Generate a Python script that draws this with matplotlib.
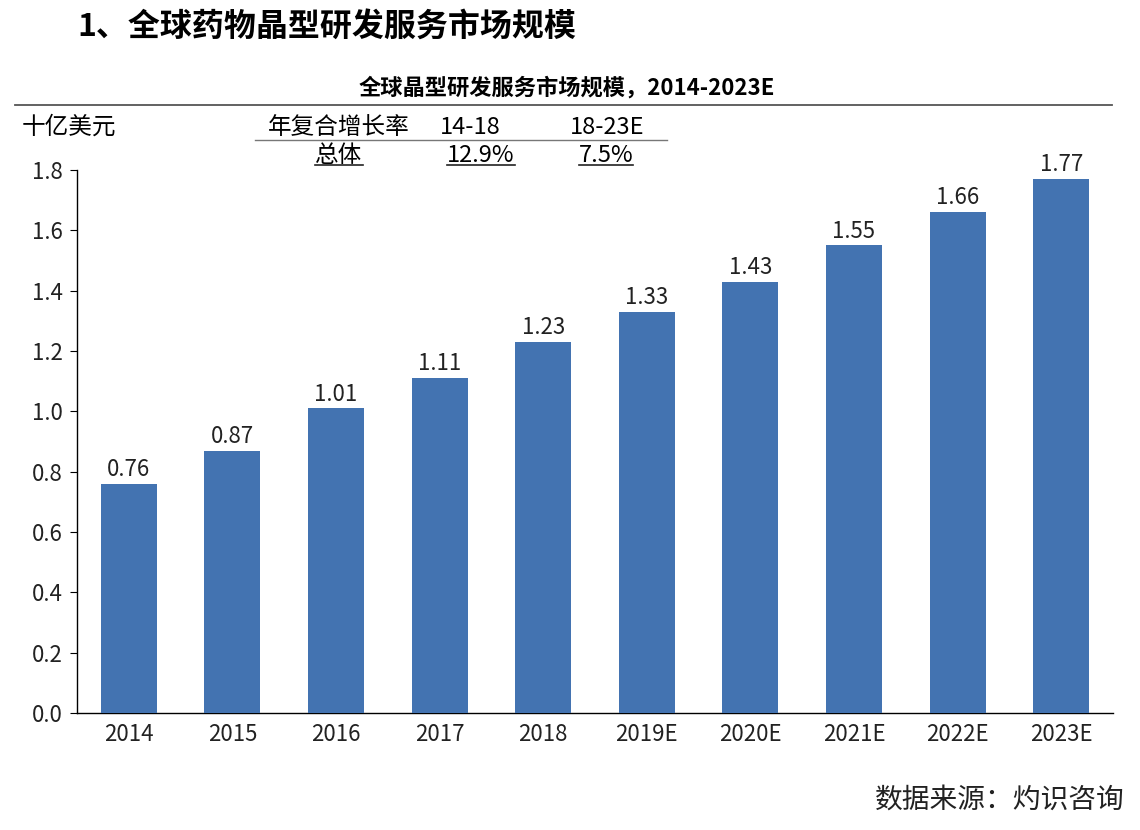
import matplotlib.pyplot as plt
from matplotlib.lines import Line2D

plt.rcParams['font.family'] = ['Noto Sans CJK SC', 'DejaVu Sans']

# data
years = ["2014", "2015", "2016", "2017", "2018", "2019E", "2020E", "2021E", "2022E", "2023E"]
values = [0.76, 0.87, 1.01, 1.11, 1.23, 1.33, 1.43, 1.55, 1.66, 1.77]
cagr_header = ["年复合增长率", "14-18", "18-23E"]
cagr_row = ["总体", "12.9%", "7.5%"]

W, H = 1140, 830
fig = plt.figure(figsize=(W / 100, H / 100), dpi=100)
ax = fig.add_axes([77 / W, 1 - 713 / H, (1113 - 77) / W, (713 - 170) / H])

bar_color = "#4373B1"
x = range(len(years))
ax.bar(x, values, width=0.54, color=bar_color, zorder=3)
for i, v in enumerate(values):
    ax.annotate(f"{v:.2f}", (i, v), xytext=(0, 2), textcoords="offset points",
                ha="center", va="bottom", fontsize=16, color="#222222")

ax.set_xlim(-0.5, len(years) - 0.5)
ax.set_ylim(0, 1.8)
ax.set_yticks([i * 0.2 for i in range(10)])
ax.set_yticklabels([f"{i * 0.2:.1f}" for i in range(10)])
ax.set_xticks(list(x))
ax.set_xticklabels(years)
ax.tick_params(axis="x", length=0, labelsize=16, pad=7, colors="#222222")
ax.tick_params(axis="y", length=5, labelsize=16, pad=5, colors="#222222")
ax.tick_params(axis="y", color="black")
for s in ["top", "right"]:
    ax.spines[s].set_visible(False)
ax.spines["left"].set_linewidth(1.0)
ax.spines["bottom"].set_linewidth(1.0)

# titles
fig.text(77 / W, 1 - 28 / H, "1、全球药物晶型研发服务市场规模", fontsize=23,
         fontweight="bold", ha="left", va="center", color="black")
fig.text(567 / W, 1 - 88 / H, "全球晶型研发服务市场规模，2014-2023E", fontsize=16,
         fontweight="bold", ha="center", va="center", color="black")
fig.add_artist(Line2D([15 / W, 1112 / W], [1 - 105 / H, 1 - 105 / H],
                      color="#555555", lw=1.3))

fig.text(22 / W, 1 - 127 / H, "十亿美元", fontsize=17, ha="left", va="center")

# CAGR table
col_x = [339, 470, 607]
row_x = [339, 481, 606]
for cx, t in zip(col_x, cagr_header):
    fig.text(cx / W, 1 - 127 / H, t, fontsize=17, ha="center", va="center")
fig.add_artist(Line2D([255 / W, 667 / W], [1 - 140 / H, 1 - 140 / H],
                      color="#777777", lw=1.0))
row_texts = []
for cx, t in zip(row_x, cagr_row):
    row_texts.append(fig.text(cx / W, 1 - 155 / H, t, fontsize=17, ha="center", va="center"))

fig.canvas.draw()
r = fig.canvas.get_renderer()
for t in row_texts:
    bb = t.get_window_extent(r)
    y = (bb.y0 + 1) / H
    fig.add_artist(Line2D([bb.x0 / W, bb.x1 / W], [y, y], color="#222222", lw=1.2))

fig.text(1125 / W, 1 - 800 / H, "数据来源：灼识咨询", fontsize=20,
         ha="right", va="center", color="#222222")

fig.savefig("out.png", dpi=100)
